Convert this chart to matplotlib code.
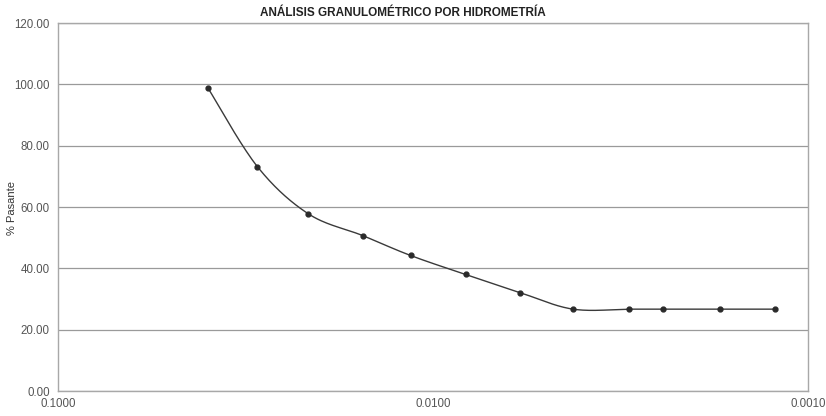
import numpy as np
import matplotlib
matplotlib.use("Agg")
import matplotlib.pyplot as plt

plt.rcParams['font.family'] = ['Liberation Sans', 'DejaVu Sans']

# Particle diameter (mm) and percent passing from the hydrometer test
diametro = [0.0398, 0.0294, 0.0215, 0.0154, 0.01147, 0.00818, 0.00586,
            0.00423, 0.00299, 0.00244, 0.00172, 0.00122]
pasante = [98.8, 73.2, 57.8, 50.7, 44.2, 38.0, 32.1,
           26.7, 26.7, 26.7, 26.7, 26.7]
y_ticks = [0, 20, 40, 60, 80, 100, 120]
x_ticks = [0.1, 0.01, 0.001]

fig = plt.figure(figsize=(8.26, 4.16), dpi=100)
ax = fig.add_axes([0.0702, 0.060, 0.9078, 0.8847])
ax.set_xscale('log')
ax.set_xlim(0.1, 0.001)
ax.set_ylim(0, 120)

ax.set_yticks(y_ticks)
ax.set_yticklabels([f"{v:.2f}" for v in y_ticks])
ax.set_xticks(x_ticks)
ax.set_xticklabels([f"{v:.4f}" for v in x_ticks])
ax.xaxis.set_minor_locator(matplotlib.ticker.NullLocator())
ax.tick_params(axis='both', length=0, labelsize=8.3, colors='#555555', pad=6)
ax.tick_params(axis='x', pad=5)

ax.yaxis.grid(True, color='#9a9a9a', linewidth=0.9)
ax.set_axisbelow(True)
for s in ax.spines.values():
    s.set_color('#a8a8a8')
    s.set_linewidth(1.0)

# Smoothed curve through the points (Catmull-Rom style in screen space)
fig.canvas.draw()
pts = ax.transData.transform(np.column_stack([diametro, pasante]))
n = len(pts)
curve = []
t = np.linspace(0, 1, 30)
for i in range(n - 1):
    p0 = pts[max(i - 1, 0)]
    p1 = pts[i]
    p2 = pts[i + 1]
    p3 = pts[min(i + 2, n - 1)]
    c1 = p1 + (p2 - p0) / 6.0
    c2 = p2 - (p3 - p1) / 6.0
    seg = ((1 - t) ** 3)[:, None] * p1 + (3 * (1 - t) ** 2 * t)[:, None] * c1 \
        + (3 * (1 - t) * t ** 2)[:, None] * c2 + (t ** 3)[:, None] * p2
    curve.append(seg)
curve = np.vstack(curve)
curve_data = ax.transData.inverted().transform(curve)
ax.plot(curve_data[:, 0], curve_data[:, 1], color='#3a3a3a', linewidth=1.0)
ax.plot(diametro, pasante, linestyle='none', marker='o', markersize=3.5,
        color='#2a2a2a')

fig.text(0.008, 0.50, '% Pasante', rotation=90, ha='left', va='center',
         fontsize=8, color='#333333')
fig.text(0.488, 0.968, 'ANÁLISIS GRANULOMÉTRICO POR HIDROMETRÍA',
         ha='center', va='center', fontsize=8.5, fontweight='bold',
         color='#222222')

fig.savefig('out.png', dpi=100)
